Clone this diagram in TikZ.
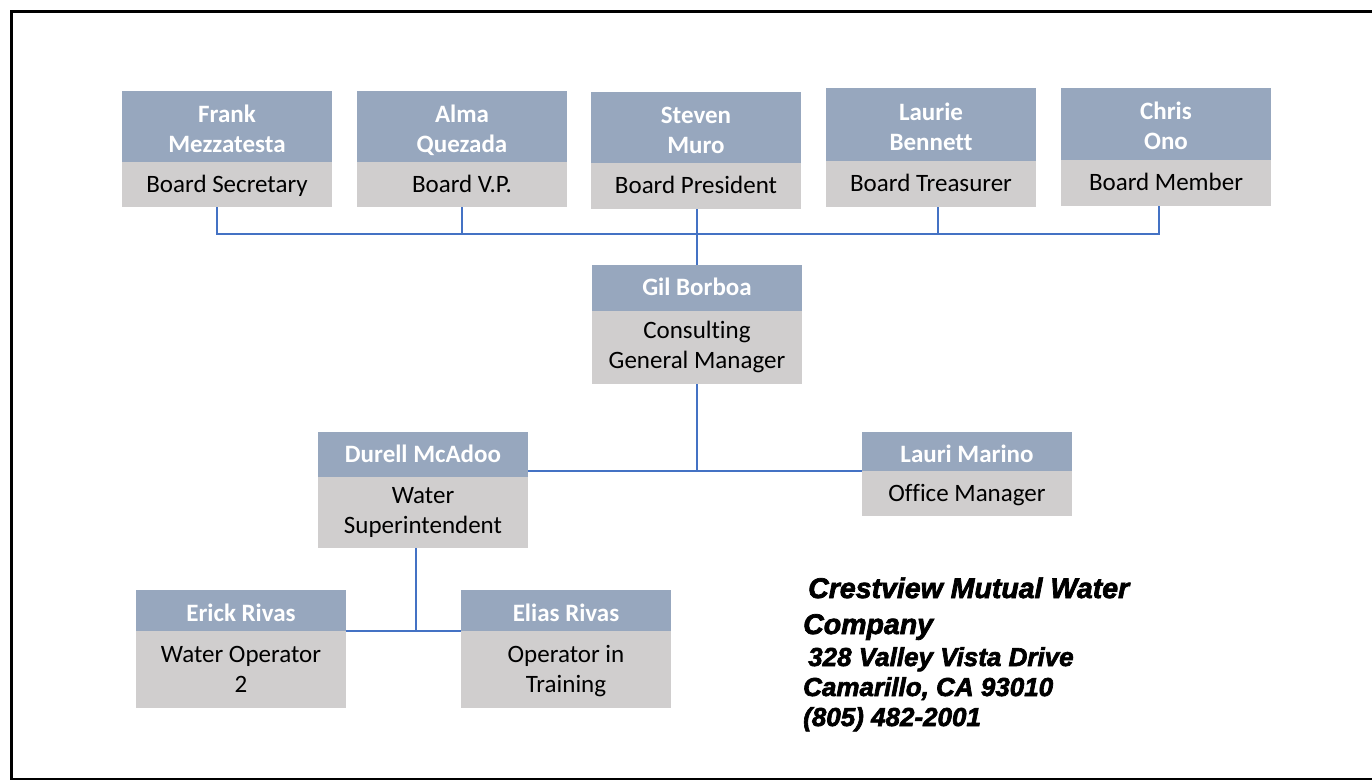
\documentclass[tikz,border=0pt]{standalone}
\usepackage{fontspec}
\setmainfont{Carlito}[Ligatures=NoCommon]
\newfontfamily\addrfont{Liberation Sans}[BoldItalicFeatures={FakeBold=2.5}]
\definecolor{hdrc}{RGB}{151,167,190}
\definecolor{rolec}{RGB}{208,206,206}
\definecolor{connc}{RGB}{68,114,196}
\newcommand{\hs}{\rule[-6.4pt]{0pt}{28.4pt}}
\newcommand{\hl}{\rule[-6.4pt]{0pt}{34.4pt}}
\tikzset{
  hdr/.style={fill=hdrc, text=white, font=\bfseries\fontsize{25}{30}\selectfont,
    minimum width=210pt, inner sep=0pt, align=center},
  role/.style={fill=rolec, text=black, font=\fontsize{25}{30}\selectfont,
    minimum width=210pt, inner sep=0pt, align=center},
  link/.style={draw=connc, line width=2pt},
  frame/.style={draw=black, line width=2.5pt},
  addrtitle/.style={anchor=base west, inner sep=0pt, font=\addrfont\bfseries\itshape\fontsize{28.5}{34}\selectfont},
  addrline/.style={anchor=base west, inner sep=0pt, font=\addrfont\bfseries\itshape\fontsize{26}{30}\selectfont},
}
\begin{document}
\begin{tikzpicture}[x=1pt, y=-1pt]
\useasboundingbox (0,0) rectangle (1372,782);
\draw[frame] (1372,11.5) -- (11.5,11.5) -- (11.5,779) -- (1372,779);

% board row
\node[hdr, minimum height=71pt] (frankH) at (227,126.5) {\hl Frank\\\hs Mezzatesta};
\node[role, minimum height=45pt] (frankR) at (227,184.5) {\hs Board Secretary};
\node[hdr, minimum height=71pt] (almaH) at (462,126.5) {\hl Alma\\\hs Quezada};
\node[role, minimum height=45pt] (almaR) at (462,184.5) {\hs Board V.P.};
\node[hdr, minimum height=71pt] (stevenH) at (696,127.5) {\hl Steven\\\hs Muro};
\node[role, minimum height=46pt] (stevenR) at (696,186) {\hs Board President};
\node[hdr, minimum height=72.5pt] (laurieH) at (931,124.25) {\hl Laurie\\\hs Bennett};
\node[role, minimum height=46.5pt] (laurieR) at (931,183.75) {\hs Board Treasurer};
\node[hdr, minimum height=72pt] (chrisH) at (1166,124) {\hl Chris\\\hs Ono};
\node[role, minimum height=46pt] (chrisR) at (1166,183) {\hs Board Member};

% manager
\node[hdr, minimum height=46pt] (gilH) at (697,288) {\hs Gil Borboa};
\node[role, minimum height=73pt] (gilR) at (697,347.5) {\rule[-6.4pt]{0pt}{24.4pt}Consulting\\\hs General Manager};

% second level
\node[hdr, minimum height=45pt] (durellH) at (423,454.5) {\hs Durell McAdoo};
\node[role, minimum height=71pt] (durellR) at (423,512.5) {\rule[-6.4pt]{0pt}{24.4pt}Water\\\hs Superintendent};
\node[hdr, minimum height=39pt] (lauriH) at (967,451.5) {\hl Lauri Marino};
\node[role, minimum height=45pt] (lauriR) at (967,493.5) {\hs Office Manager};

% third level
\node[hdr, minimum height=41pt] (erickH) at (241,610.5) {\hl Erick Rivas};
\node[role, minimum height=77pt] (erickR) at (241,669.5) {\hs Water Operator\\\hs 2};
\node[hdr, minimum height=41pt] (eliasH) at (566,610.5) {\hl Elias Rivas};
\node[role, minimum height=77pt] (eliasR) at (566,669.5) {\hs Operator in\\\hs Training};

% connectors
\coordinate (busL) at (217,234);
\coordinate (busR) at (1159,234);
\coordinate (busLaurie) at (938,234);
\draw[link] (frankR.south -| busL) -- (busL) -- (busR) -- (chrisR.south -| busR);
\draw[link] (almaR.south) -- (almaR.south |- busL);
\draw[link] (laurieR.south -| busLaurie) -- (busLaurie);
\draw[link] (gilH.north |- stevenR.south) -- (gilH.north);
\coordinate (midJ) at (697,471);
\draw[link] (gilR.south) -- (midJ);
\draw[link] (durellH.east |- midJ) -- (midJ -| lauriH.west);
\coordinate (opJ) at (416,631);
\draw[link] (durellR.south -| opJ) -- (opJ);
\draw[link] (erickR.north east) -- (eliasR.north west);

% address
\node[addrtitle] (addr1) at (808,598) {Crestview Mutual Water};
\node[addrtitle] (addr2) at (803,634) {Company};
\node[addrline] (addr3) at (808,666) {328 Valley Vista Drive};
\node[addrline] (addr4) at (803,696) {Camarillo, CA 93010};
\node[addrline] (addr5) at (803,726) {(805) 482-2001};
\end{tikzpicture}
\end{document}
